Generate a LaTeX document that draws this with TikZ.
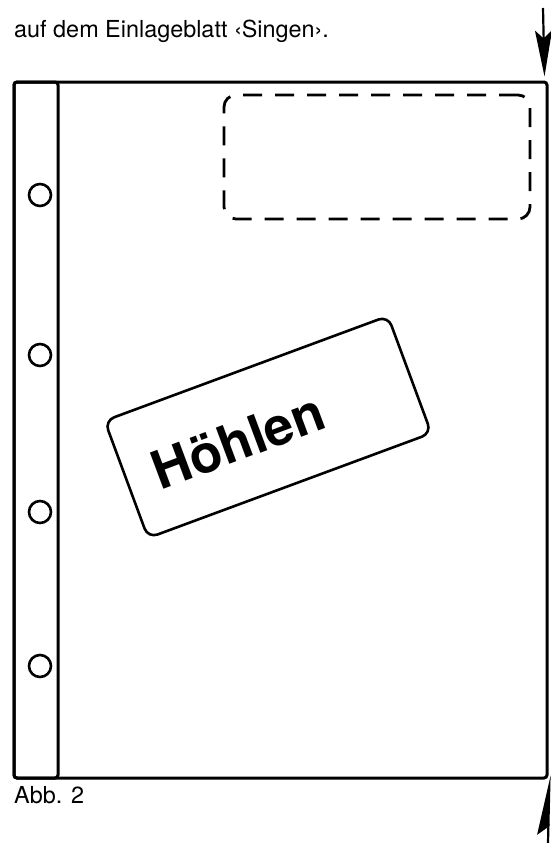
\documentclass[tikz,border=0pt]{standalone}
\usepackage{fontspec}
\setmainfont{TeX Gyre Heros}
\usetikzlibrary{arrows.meta, positioning}

\begin{document}
\begin{tikzpicture}[x=1pt, y=-1pt,
    sheetline/.style={line width=3pt, rounded corners=3pt},
    hole/.style={circle, draw, line width=2.6pt, minimum size=22pt, inner sep=0pt},
    pointer/.style={line width=2.2pt, -{Stealth[length=46pt, width=17pt, inset=8pt]}},
    halfpointer/.style={line width=2.2pt, -{Stealth[length=54pt, width=22pt, inset=8pt, left]}},
    every node/.style={font=\fontsize{23.4}{28}\selectfont}
]
\useasboundingbox (0,0) rectangle (551,843);

% Caption lines
\node[anchor=base west, inner sep=0pt] (caption) at (14,38) {auf dem Einlageblatt ‹Singen›.};
\node[anchor=base west, inner sep=0pt] (abb) at (14,803) {Abb. 2};

% Sheet with punched strip
\node[sheetline, draw, minimum width=533pt, minimum height=696pt, inner sep=0pt] (sheet) at (280.5,430) {};
\node[sheetline, draw, minimum width=44pt, minimum height=696pt, inner sep=0pt] (strip) at (36,430) {};
\foreach \y [count=\i] in {195, 355, 512, 666} {
    \node[hole] (hole\i) at (40,\y) {};
}

% Dashed field for the title
\node[draw, line width=2.8pt, rounded corners=12pt, dash pattern=on 19pt off 13pt,
      minimum width=306pt, minimum height=124pt] (field) at (377,157) {};

% Label stuck on the sheet
\node[draw, line width=2.6pt, rounded corners=10pt, rotate=20.3,
      minimum width=302pt, minimum height=125pt] (label) at (268,427) {};
\node[rotate=20.5, font=\fontsize{53}{60}\selectfont\bfseries, inner sep=0pt] (word) at (238,441) {Höhlen};

% Cutting marks
\coordinate (topstart) at (543,8);
\coordinate (botstart) at (548,843);
\draw[pointer] (topstart) -- ([xshift=-4pt, yshift=4pt]sheet.north east);
\draw[halfpointer] (botstart) -- ([xshift=1pt, yshift=4pt]sheet.south east);
\end{tikzpicture}
\end{document}
